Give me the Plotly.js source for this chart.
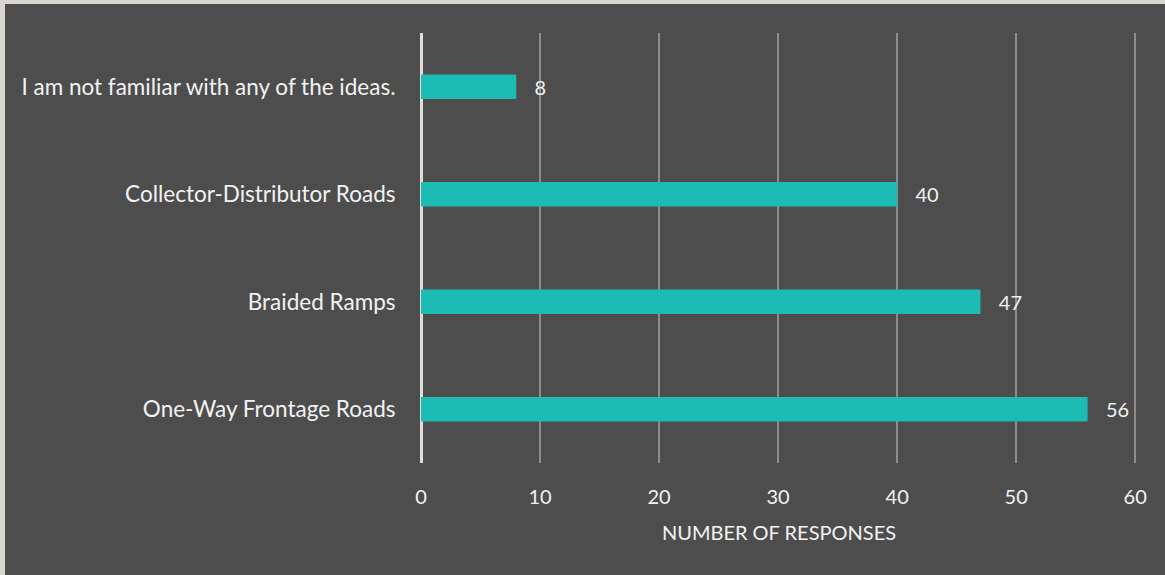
<!DOCTYPE html>
<html><head><meta charset="utf-8">
<script src="https://cdn.plot.ly/plotly-3.0.1.min.js"></script>
<style>
html,body{margin:0;padding:0;background:#d9d6d2;width:1165px;height:575px;overflow:hidden}
#chart{position:absolute;left:5px;top:4px;width:1160px;height:571px}
</style></head>
<body><div id="chart"></div>
<script>
const categories = ["One-Way Frontage Roads","Braided Ramps","Collector-Distributor Roads","I am not familiar with any of the ideas."];
const responses = [56, 47, 40, 8];
const xTicks = [0,10,20,30,40,50,60];

const trace = {
  type: 'bar', orientation: 'h',
  y: categories, x: responses,
  text: responses.map(String), texttemplate: '   %{text}', textposition: 'outside', cliponaxis: false,
  textfont: {color: '#f2f2f2', size: 20, family: 'Lato, sans-serif'},
  marker: {color: '#1cbbb4'},
  width: 0.23, hoverinfo: 'none'
};
const layout = {
  width: 1160, height: 571,
  paper_bgcolor: '#4d4d4d', plot_bgcolor: '#4d4d4d',
  margin: {l: 416, r: 28, t: 29, b: 112},
  font: {family: 'Lato, sans-serif', color: '#f2f2f2', size: 20},
  showlegend: false,
  xaxis: {
    range: [0, 60.15], tickvals: xTicks, showgrid: true, gridcolor: '#8c8c8c', gridwidth: 2,
    zeroline: true, zerolinecolor: '#e2ddd8', zerolinewidth: 3,
    ticks: 'outside', ticklen: 16, tickcolor: 'rgba(0,0,0,0)',
    tickfont: {size: 20, color: '#f2f2f2'},
    title: {text: 'NUMBER OF RESPONSES', font: {size: 20, color: '#f2f2f2'}, standoff: 18},
    fixedrange: true
  },
  yaxis: {
    type: 'category', categoryorder: 'array', categoryarray: categories,
    range: [-0.5, 3.5], showgrid: false, zeroline: false,
    ticks: 'outside', ticklen: 20, tickcolor: 'rgba(0,0,0,0)',
    tickfont: {size: 22.5, color: '#f2f2f2'}, fixedrange: true
  }
};
Plotly.newPlot('chart', [trace], layout, {displayModeBar: false, staticPlot: true});
</script></body></html>
